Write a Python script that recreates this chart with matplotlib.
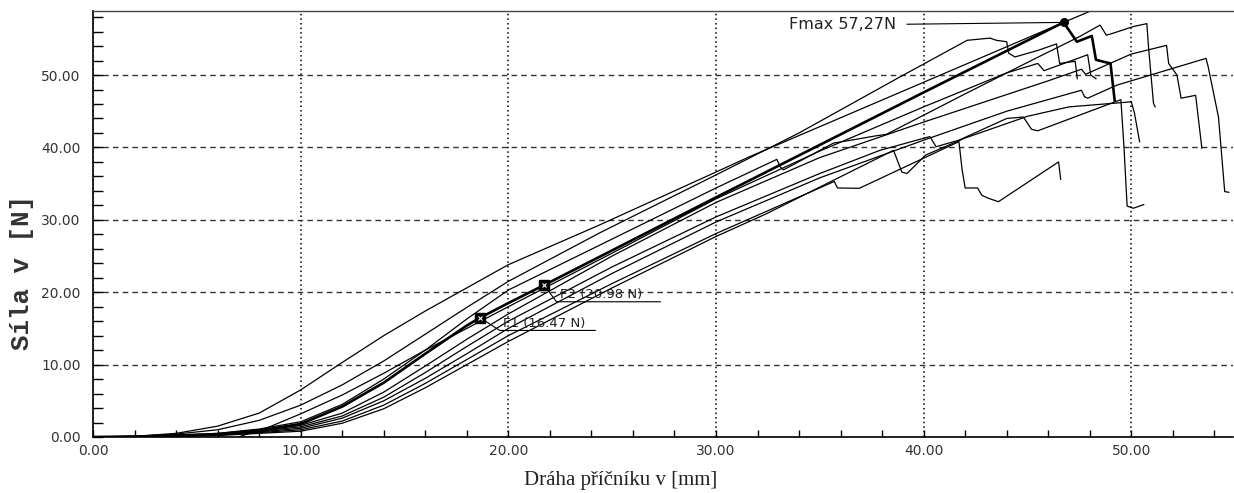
import matplotlib
matplotlib.use("Agg")
import matplotlib.pyplot as plt
from matplotlib.ticker import MultipleLocator, FormatStrFormatter

# crosshead travel [mm] / force [N] for each specimen
x_a = [0, 2, 4, 6, 8, 10, 12, 14, 16, 18, 20, 24.4, 30, 31.6, 40, 46.74, 49]
y_a = [0, 0.1, 0.5, 1.5, 3.3, 6.5, 10.3, 14.0, 17.4, 20.6, 23.8, 29.3, 36.6, 38.7, 49.0, 57.27, 60.0]

x_b = [0, 2, 4, 6, 8, 10, 12, 14, 16, 18, 20, 24.4, 30, 34, 38.9, 42.1, 43.2, 43.5, 44.0, 44.1,
       44.4, 45.5, 46.4, 46.55, 47.3, 47.4]
y_b = [0, 0.1, 0.4, 1.0, 2.3, 4.4, 7.2, 10.5, 14.2, 17.9, 21.5, 28.2, 36.2, 42.0, 49.8, 54.8, 55.1, 54.8, 54.6, 53.0,
       52.5, 53.4, 54.3, 51.6, 51.9, 49.5]

x_c = [0, 3, 6, 8, 10, 12, 14, 16, 18, 20, 24.4, 30, 32.93, 33.1, 33.25, 35.66, 36.5, 37.7, 38.2, 42,
       45.6, 47.5, 48.5, 48.8, 49.15, 50.1, 50.75, 50.83, 51.07, 51.15]
y_c = [0, 0.1, 0.5, 1.1, 2.1, 4.5, 8.0, 12.0, 16.3, 20.3, 26.5, 34.4, 38.35, 37.3, 36.9, 40.6, 41.0, 41.6, 41.8, 47.4,
       52.6, 55.3, 56.9, 55.5, 55.8, 56.7, 57.1, 53.9, 46.1, 45.6]

# evaluated specimen (F1, F2, Fmax)
x_m = [0, 3, 6, 8, 10, 12, 14, 16, 18, 18.64, 20, 21.72, 30, 40, 46.74, 47.38, 48.1, 48.3, 49.0, 49.2]
y_m = [0, 0.1, 0.4, 0.9, 1.8, 4.2, 7.5, 11.5, 15.4, 16.47, 18.5, 20.98, 33.1, 47.6, 57.27, 54.6, 55.4, 52.1, 51.6, 46.5]

x_d = [7, 8.5, 10, 12, 14, 16, 18, 20, 25, 30, 35, 40, 44, 45.5, 45.8, 47.9, 48.05, 48.3]
y_d = [0, 1.4, 3.2, 5.8, 8.8, 12.0, 15.0, 18.0, 25.4, 32.9, 39.5, 45.6, 50.3, 51.6, 50.6, 52.8, 50.0, 49.5]

x_e = [0, 3, 6, 8, 10, 12, 14, 16, 18, 20, 25, 30, 35, 40, 44, 46, 47.6, 47.8, 48.5, 50,
       51.7, 51.8, 52.2, 52.4, 53.1, 53.4]
y_e = [0, 0.1, 0.4, 0.9, 1.6, 3.3, 6.2, 9.8, 13.5, 17.0, 25.0, 32.4, 38.6, 43.5, 47.3, 49.2, 50.8, 50.1, 51.0, 52.9,
       54.1, 51.6, 50.0, 46.8, 47.2, 39.9]

x_f = [0, 3, 6, 8, 10, 12, 14, 16, 18, 20, 25, 30, 35, 37.9, 40.3, 40.6, 41.7, 44.0, 44.8, 45.2,
       45.5, 49.5, 49.65, 49.8, 50.1, 50.6]
y_f = [0, 0.1, 0.35, 0.8, 1.4, 2.9, 5.5, 8.9, 12.5, 16.0, 23.5, 30.4, 36.4, 39.6, 41.5, 40.1, 41.0, 44.0, 44.2, 42.5,
       42.3, 46.6, 40.0, 31.9, 31.6, 32.1]

x_g = [0, 3, 6, 8, 10, 12, 14, 16, 18, 20, 25, 30, 35, 40, 44, 47.6, 47.75, 47.9, 49.3, 53.6,
       53.7, 54.2, 54.5, 54.7]
y_g = [0, 0.08, 0.3, 0.7, 1.2, 2.6, 5.0, 8.1, 11.5, 15.0, 22.6, 29.7, 35.8, 41.0, 45.0, 47.9, 47.0, 46.8, 48.6, 52.3,
       51.2, 44.2, 33.9, 33.8]

x_h = [0, 3, 6, 8, 10, 12, 14, 16, 18, 20, 25, 30, 35.7, 35.85, 36.9, 41.7, 41.85, 42.0, 42.6, 42.8,
       43.1, 43.6, 46.5, 46.6]
y_h = [0, 0.06, 0.25, 0.6, 1.0, 2.2, 4.4, 7.4, 10.7, 14.0, 21.2, 28.1, 35.3, 34.4, 34.35, 40.8, 37.0, 34.4, 34.4, 33.4,
       33.0, 32.5, 38.0, 35.6]

x_i = [0, 3, 6, 8, 10, 12, 14, 16, 18, 20, 25, 30, 32.4, 38.55, 38.95, 39.2, 40.1, 42, 45, 47,
       50.0, 50.15, 50.4]
y_i = [0, 0.05, 0.2, 0.5, 0.8, 1.9, 3.9, 6.8, 10.0, 13.2, 20.6, 27.7, 30.8, 39.6, 36.6, 36.4, 38.95, 41.3, 44.3, 45.6,
       46.3, 44.8, 40.8]

f1 = (18.64, 16.47)
f2 = (21.72, 20.98)
fmax = (46.74, 57.27)

plt.rcParams['font.family'] = 'DejaVu Sans'
fig = plt.figure(figsize=(12.34, 4.93), dpi=100)
ax = fig.add_axes([0.0754, 0.1136, 0.9238, 0.864])

thin = [(x_a, y_a), (x_b, y_b), (x_c, y_c), (x_d, y_d), (x_e, y_e),
        (x_f, y_f), (x_g, y_g), (x_h, y_h), (x_i, y_i)]
for xs, ys in thin:
    ax.plot(xs, ys, color='black', lw=0.9, solid_joinstyle='round')
ax.plot(x_m, y_m, color='black', lw=1.9, solid_joinstyle='round')

# markers on the evaluated curve
for p in (f1, f2):
    ax.plot(*p, marker='s', ms=6.5, mfc='black', mec='black', zorder=5)
    ax.plot(*p, marker='x', ms=3, mec='white', mew=0.8, zorder=6)
ax.plot(*fmax, marker='o', ms=5.5, color='black', zorder=5)

# labels with leader line and underline
lbl_kw = dict(fontsize=9.5, color='#222222', ha='left', va='bottom')
for p, txt, dx, dy, ul in ((f1, 'F1 (%.2f N)' % f1[1], 0.95, -1.75, 4.6),
                           (f2, 'F2 (%.2f N)' % f2[1], 0.6, -2.3, 5.0)):
    ex, ey = p[0] + dx, p[1] + dy
    ax.plot([p[0], ex, ex + ul], [p[1], ey, ey], color='black', lw=0.8)
    ax.text(ex + 0.15, ey + 0.1, txt, **lbl_kw)

ax.annotate('Fmax %s' % ('%.2fN' % fmax[1]).replace('.', ','), xy=fmax,
            xytext=(33.5, 57.0), fontsize=11.5, color='#222222', ha='left', va='center',
            arrowprops=dict(arrowstyle='-', color='black', lw=0.8, shrinkA=6, shrinkB=0,
                            relpos=(1.0, 0.5)))

ax.set_xlim(0, 54.9)
ax.set_ylim(0, 58.84)
ax.xaxis.set_major_locator(MultipleLocator(10))
ax.xaxis.set_minor_locator(MultipleLocator(2))
ax.yaxis.set_major_locator(MultipleLocator(10))
ax.yaxis.set_minor_locator(MultipleLocator(2))
ax.xaxis.set_major_formatter(FormatStrFormatter('%.2f'))
ax.yaxis.set_major_formatter(FormatStrFormatter('%.2f'))
ax.tick_params(which='both', direction='in', color='black', width=1)
ax.tick_params(axis='x', which='both', length=5, pad=5, labelsize=10, labelcolor='#333333')
ax.tick_params(axis='y', which='both', length=7, pad=9, labelsize=10, labelcolor='#333333')
ax.xaxis.get_major_ticks()[0].label1.set_horizontalalignment('left')

ax.xaxis.grid(True, which='major', color='black', ls=(0, (1, 2)), lw=1.1)
ax.yaxis.grid(True, which='major', color='#333333', ls=(0, (4, 3)), lw=1.0)
ax.set_axisbelow(True)

for s in ('left', 'bottom'):
    ax.spines[s].set_linewidth(1.2)
ax.spines['top'].set_linewidth(1.0)
ax.spines['top'].set_color('#444444')
ax.spines['right'].set_visible(False)

fig.text(0.503, 0.026, 'Dráha příčníku v [mm]', family='Liberation Serif', fontsize=15,
         ha='center', va='center', color='#222222')
fig.text(0.018, 0.448, 'Síla v [N]', family='Liberation Mono', fontsize=18.5,
         weight='bold', rotation=90, ha='center', va='center', color='#333333')

fig.savefig('out.png', dpi=100, facecolor='white')
